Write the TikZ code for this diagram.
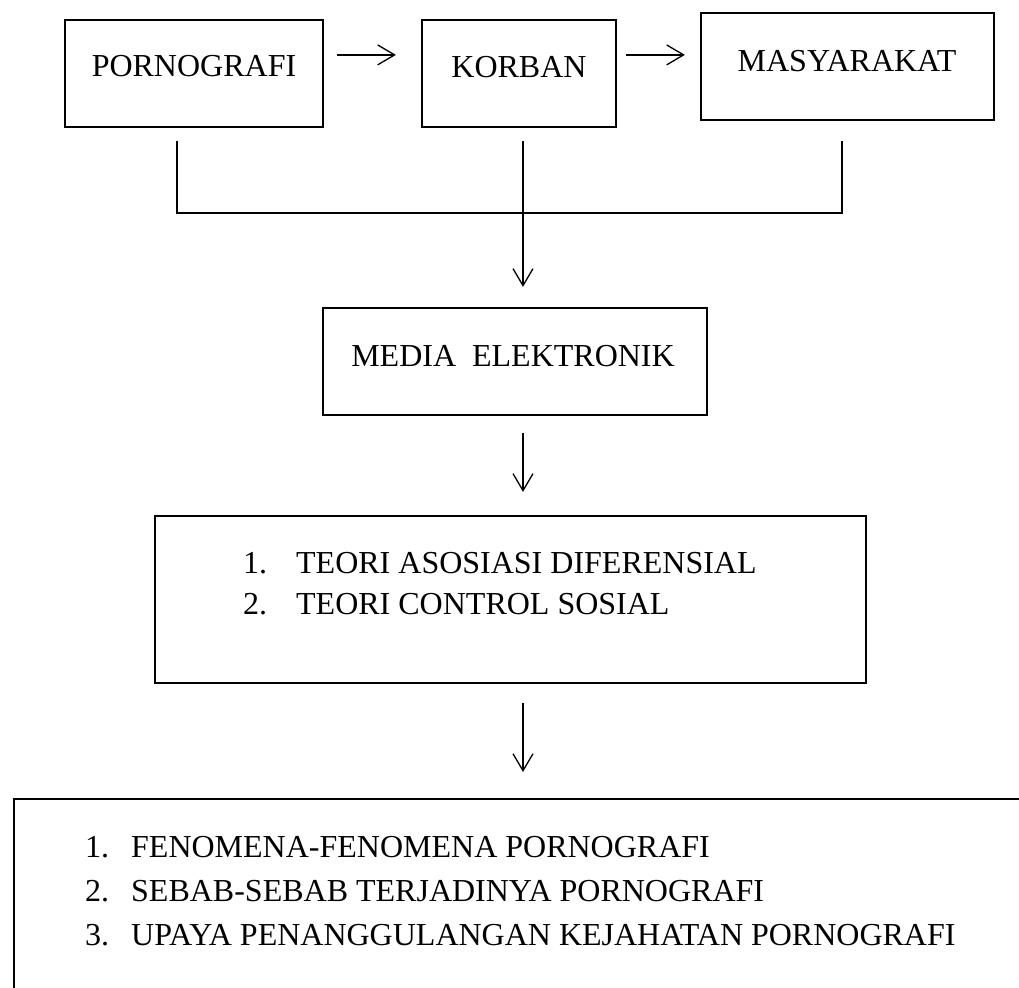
\documentclass[tikz,border=0pt]{standalone}
\usepackage{fontspec}
\setmainfont{Liberation Serif}
\usetikzlibrary{arrows.meta}
\begin{document}
\begin{tikzpicture}[x=1pt,y=-1pt,
  box/.style={draw, line width=2.2pt, rectangle, inner sep=0pt},
  lbl/.style={font=\fontsize{32}{38}\selectfont, inner sep=0pt, anchor=base},
  item/.style={font=\fontsize{32}{38}\selectfont, inner sep=0pt, anchor=base west},
  conn/.style={line width=1.3pt},
  arr/.style={line width=1.3pt, -{Straight Barb[length=17pt,width=20pt,line width=1.3pt]}}]
\useasboundingbox (0,0) rectangle (1019,987);
\fill[white] (0,0) rectangle (1019,987);
% top row
\node[box, minimum width=258pt, minimum height=107pt] (porno) at (194,73.5) {};
\node[lbl] (tporno) at (194,77) {PORNOGRAFI};
\node[box, minimum width=194pt, minimum height=107pt] (korban) at (519,73.5) {};
\node[lbl] (tkorban) at (519,78) {KORBAN};
\node[box, minimum width=293pt, minimum height=107pt] (masy) at (847.5,66.5) {};
\node[lbl] (tmasy) at (847,72) {MASYARAKAT};
% horizontal arrows
\coordinate (a1) at ([xshift=13pt,yshift=-36pt]porno.north east);
\draw[arr, shorten >=25pt] (a1) -- (a1 -| korban.west);
\coordinate (a2) at ([xshift=9pt,yshift=-36pt]korban.north east);
\draw[arr, shorten >=15pt] (a2) -- (a2 -| masy.west);
% collector
\coordinate (cl) at ([xshift=-17pt,yshift=-13pt]porno.south);
\coordinate (cr) at ([xshift=-5.5pt,yshift=-20pt]masy.south);
\coordinate (cm) at ([xshift=4pt,yshift=-13pt]korban.south);
\draw[conn] (cl) -- (cl |- 0,213) -- (cr |- 0,213) -- (cr);
% media
\node[box, minimum width=384pt, minimum height=107pt] (media) at (515,361.5) {};
\node[lbl] (tmedia) at (513,366) {MEDIA\ \ ELEKTRONIK};
\draw[arr, shorten >=20pt] (cm) -- (cm |- media.north);
% theory
\node[box, minimum width=711pt, minimum height=167pt] (teori) at (510.5,599.5) {};
\node[item] (t1) at (243,573) {\makebox[53pt][l]{1.}TEORI ASOSIASI DIFERENSIAL};
\node[item] (t2) at (243,614) {\makebox[53pt][l]{2.}TEORI CONTROL SOSIAL};
\coordinate (m1) at ([xshift=8pt,yshift=-17pt]media.south);
\draw[arr, shorten >=23pt] (m1) -- (m1 |- teori.north);
% result
\node[box, anchor=north west, minimum width=1200pt, minimum height=400pt] (hasil) at (13,798) {};
\node[item] (h1) at (85,857) {\makebox[46pt][l]{1.}FENOMENA-FENOMENA PORNOGRAFI};
\node[item] (h2) at (85,901) {\makebox[46pt][l]{2.}SEBAB-SEBAB TERJADINYA PORNOGRAFI};
\node[item] (h3) at (85,945) {\makebox[46pt][l]{3.}UPAYA PENANGGULANGAN KEJAHATAN PORNOGRAFI};
\coordinate (m2) at ([xshift=12.5pt,yshift=-19pt]teori.south);
\draw[arr, shorten >=26pt] (m2) -- (m2 |- hasil.north);
\end{tikzpicture}
\end{document}
